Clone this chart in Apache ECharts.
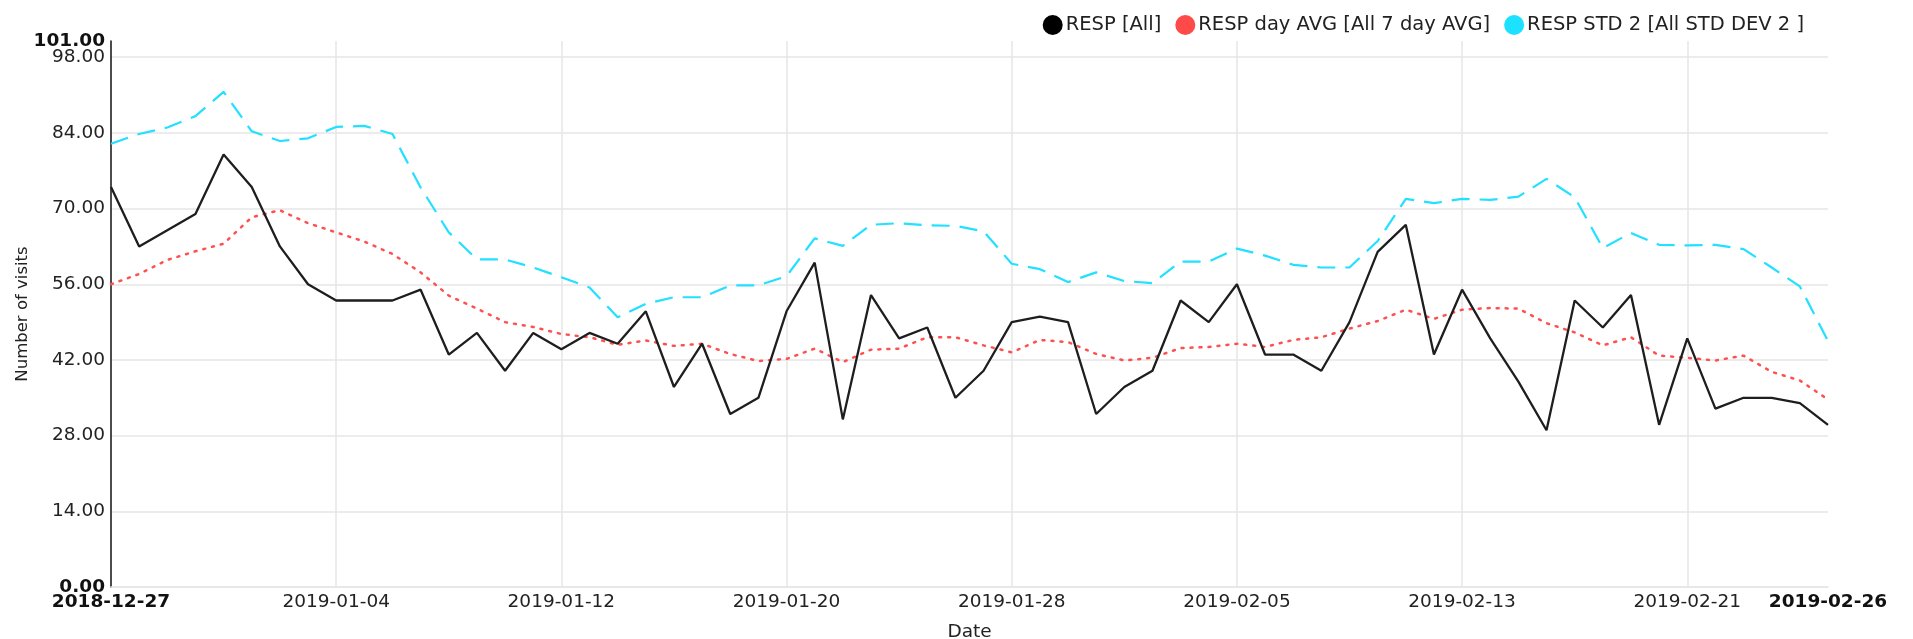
<!DOCTYPE html>
<html>
<head>
<meta charset="utf-8">
<title>RESP</title>
<script src="https://cdn.jsdelivr.net/npm/echarts@6/dist/echarts.min.js"></script>
<style>
	html, body { margin: 0; padding: 0; background: #fff; }
	#chart { width: 1913px; height: 639px; }
</style>
</head>
<body>
<div id="chart"></div>
<script>
var dates = [
	'2018-12-27', '2018-12-28', '2018-12-29', '2018-12-30', '2018-12-31',
	'2019-01-01', '2019-01-02', '2019-01-03', '2019-01-04', '2019-01-05', '2019-01-06', '2019-01-07',
	'2019-01-08', '2019-01-09', '2019-01-10', '2019-01-11', '2019-01-12', '2019-01-13', '2019-01-14',
	'2019-01-15', '2019-01-16', '2019-01-17', '2019-01-18', '2019-01-19', '2019-01-20', '2019-01-21',
	'2019-01-22', '2019-01-23', '2019-01-24', '2019-01-25', '2019-01-26', '2019-01-27', '2019-01-28',
	'2019-01-29', '2019-01-30', '2019-01-31', '2019-02-01', '2019-02-02', '2019-02-03', '2019-02-04',
	'2019-02-05', '2019-02-06', '2019-02-07', '2019-02-08', '2019-02-09', '2019-02-10', '2019-02-11',
	'2019-02-12', '2019-02-13', '2019-02-14', '2019-02-15', '2019-02-16', '2019-02-17', '2019-02-18',
	'2019-02-19', '2019-02-20', '2019-02-21', '2019-02-22', '2019-02-23', '2019-02-24', '2019-02-25',
	'2019-02-26'
];

// RESP [All]
var respAll = [
	74, 63, 66, 69, 80, 74, 63, 56, 53, 53, 53, 55, 43, 47, 40, 47,
	44, 47, 45, 51, 37, 45, 32, 35, 51, 60, 31, 54, 46, 48, 35, 40,
	49, 50, 49, 32, 37, 40, 53, 49, 56, 43, 43, 40, 49, 62, 67, 43,
	55, 46, 38, 29, 53, 48, 54, 30, 46, 33, 35, 35, 34, 30
];

// RESP day AVG [All 7 day AVG]
var respAvg = [
	56.0, 57.9, 60.5, 62.1, 63.5, 68.4, 69.7, 67.3, 65.6, 63.9, 61.6, 58.2, 53.9, 51.5, 49.0, 48.1,
	46.8, 46.2, 44.8, 45.6, 44.6, 45.0, 43.1, 41.8, 42.2, 44.1, 41.6, 43.9, 44.1, 46.2, 46.2, 44.7,
	43.4, 45.7, 45.3, 43.1, 41.9, 42.4, 44.2, 44.4, 45.0, 44.4, 45.7, 46.2, 47.8, 49.2, 51.3, 49.6,
	51.3, 51.6, 51.5, 48.8, 47.1, 44.7, 46.2, 42.8, 42.4, 41.9, 42.8, 39.8, 38.2, 34.7
];

// RESP STD 2 [All STD DEV 2 ]
var respStd = [
	82.0, 83.8, 85.0, 87.1, 91.6, 84.3, 82.5, 83.0, 85.1, 85.3, 83.8, 73.9, 65.6, 60.6, 60.6, 59.1,
	57.3, 55.4, 49.9, 52.4, 53.6, 53.6, 55.8, 55.8, 57.5, 64.5, 63.1, 67.0, 67.3, 66.9, 66.8, 65.8,
	59.8, 58.8, 56.4, 58.2, 56.6, 56.2, 60.2, 60.2, 62.6, 61.3, 59.6, 59.1, 59.1, 64.0, 71.8, 71.0,
	71.8, 71.6, 72.2, 75.5, 72.1, 62.7, 65.5, 63.3, 63.2, 63.3, 62.5, 59.1, 55.6, 45.5
];

var seriesNames = ['RESP [All]', 'RESP day AVG [All 7 day AVG]', 'RESP STD 2 [All STD DEV 2 ]'];
var yMin = 0, yMax = 101, yStep = 14;
var labelStep = 8;

var FONT = 'DejaVu Sans';
var LABEL_SIZE = 18.5;
var lastIdx = dates.length - 1;

var boldRich = { b : { fontFamily : FONT, fontSize : LABEL_SIZE, fontWeight : 'bold', color : '#111' } };

var myChart = echarts.init(document.getElementById('chart'));
var option = {
	animation : false,
	textStyle : { fontFamily : FONT },
	legend : {
		right : 104,
		top : 10,
		itemGap : 14,
		itemWidth : 20,
		itemHeight : 20,
		icon : 'circle',
		textStyle : { fontFamily : FONT, fontSize : 19.5, color : '#222', padding : [0, 0, 0, -2] },
		data : seriesNames
	},
	grid : {
		left : 111,
		right : 85,
		top : 41,
		bottom : 52,
		containLabel : false,
		outerBoundsMode : 'none'
	},
	xAxis : {
		type : 'category',
		data : dates,
		boundaryGap : false,
		name : 'Date',
		nameLocation : 'middle',
		nameGap : 36,
		nameTextStyle : { fontFamily : FONT, fontSize : 18.5, color : '#222' },
		axisLine : { lineStyle : { color : '#e6e6e6', width : 1.5 } },
		axisTick : { show : false },
		axisLabel : {
			interval : function(i) { return i % labelStep === 0 || i === lastIdx; },
			fontFamily : FONT,
			fontSize : LABEL_SIZE,
			color : '#222',
			margin : 6,
			formatter : function(v, i) {
				return (i === 0 || i === lastIdx) ? '{b|' + v + '}' : v;
			},
			rich : boldRich
		},
		splitLine : {
			show : true,
			interval : function(i) { return i % labelStep === 0 && i > 0 && i < lastIdx; },
			lineStyle : { color : '#e6e6e6', width : 1.5 }
		}
	},
	yAxis : [ {
		type : 'value',
		min : yMin,
		max : yMax,
		interval : yStep,
		name : 'Number of visits',
		nameLocation : 'middle',
		nameGap : 80,
		nameTextStyle : { fontFamily : FONT, fontSize : 16.5, color : '#222' },
		axisLine : { show : true, lineStyle : { color : '#111', width : 1.5 } },
		axisTick : { show : false },
		axisLabel : {
			fontFamily : FONT,
			fontSize : LABEL_SIZE,
			color : '#222',
			margin : 6,
			showMaxLabel : false,
			formatter : function(v) {
				var s = v.toFixed(2);
				return (v === yMin) ? '{b|' + s + '}' : s;
			},
			rich : boldRich
		},
		splitLine : {
			lineStyle : {
				color : ['#e6e6e6', '#e6e6e6', '#e6e6e6', '#e6e6e6', '#e6e6e6', '#e6e6e6', '#e6e6e6', '#e6e6e6', 'rgba(0,0,0,0)'],
				width : 1.5
			}
		}
	}, {
		// overlay axis only for the bold max label
		type : 'value',
		position : 'left',
		min : yMin,
		max : yMax,
		interval : yMax - yMin,
		axisLine : { show : false },
		axisTick : { show : false },
		splitLine : { show : false },
		axisLabel : {
			margin : 6,
			formatter : function(v) {
				return v === yMax ? '{b|' + v.toFixed(2) + '}' : '';
			},
			rich : boldRich
		}
	} ],
	series : [ {
		name : seriesNames[0],
		type : 'line',
		data : respAll,
		showSymbol : false,
		symbol : 'none',
		itemStyle : { color : '#000' },
		lineStyle : { color : '#1e1e1e', width : 2.3 },
		z : 3
	}, {
		name : seriesNames[1],
		type : 'line',
		data : respAvg,
		showSymbol : false,
		symbol : 'none',
		itemStyle : { color : '#ff4a4a' },
		lineStyle : { color : '#ff5050', width : 2.5, type : [2, 7], cap : 'round' },
		z : 2
	}, {
		name : seriesNames[2],
		type : 'line',
		data : respStd,
		showSymbol : false,
		symbol : 'none',
		itemStyle : { color : '#1de2ff' },
		lineStyle : { color : '#22e0ff', width : 2.2, type : [18, 10] },
		z : 2
	} ]
};
myChart.setOption(option);
</script>
</body>
</html>
